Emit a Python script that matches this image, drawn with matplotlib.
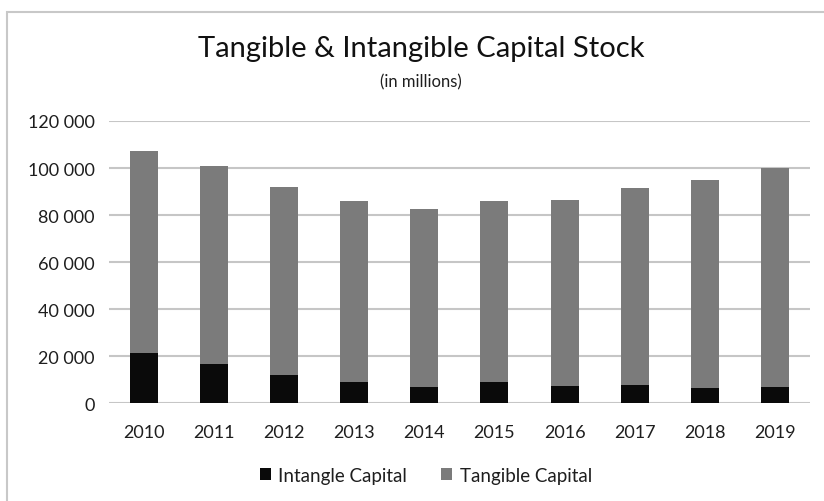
import matplotlib.pyplot as plt
import matplotlib.patches as mpatches
from matplotlib.ticker import FuncFormatter
import numpy as np

plt.rcParams['font.family'] = ['Lato', 'DejaVu Sans']

# capital stock by year, in millions
years = ['2010', '2011', '2012', '2013', '2014', '2015', '2016', '2017', '2018', '2019']
intangible = [21500, 16600, 11900, 9100, 6800, 9100, 7400, 7800, 6300, 6800]
totals = [107200, 101000, 92000, 86100, 82700, 86100, 86500, 91400, 95000, 99900]
tangible = [t - i for t, i in zip(totals, intangible)]

black = '#0a0a0a'
grey = '#7b7b7b'
grid_c = '#c6c6c6'

fig = plt.figure(figsize=(8.24, 5.02), dpi=100)
ax = fig.add_axes([0.132, 0.195, 0.851, 0.562])

x = np.arange(len(years))
ax.bar(x, intangible, width=0.4, color=black, label='Intangle Capital', zorder=3)
ax.bar(x, tangible, width=0.4, bottom=intangible, color=grey,
       label='Tangible Capital', zorder=3)

ax.set_xlim(-0.5, len(years) - 0.5)
ax.set_ylim(0, 120000)
ax.set_yticks(np.arange(0, 120001, 20000))
ax.yaxis.set_major_formatter(FuncFormatter(lambda v, p: f'{int(v):,}'.replace(',', ' ')))
ax.set_xticks(x)
ax.set_xticklabels(years)
ax.grid(axis='y', color=grid_c, linewidth=1.5, zorder=0)
ax.tick_params(length=0, labelsize=13, colors='#1e1e1e', pad=10)
ax.tick_params(axis='x', pad=15)
for s in ax.spines.values():
    s.set_visible(False)

fig.text(0.511, 0.902, 'Tangible & Intangible Capital Stock', ha='center', va='center',
         fontsize=21, color='#111111')
fig.text(0.511, 0.836, '(in millions)', ha='center', va='center', fontsize=12,
         color='#1e1e1e')

ax.legend(loc='upper center', bbox_to_anchor=(0.452, -0.165), ncol=2, frameon=False,
          fontsize=13.5, handlelength=0.6, handleheight=0.6, handletextpad=0.4,
          columnspacing=1.8, labelcolor='#1e1e1e')

# outer chart frame
frame = mpatches.Rectangle((7 / 824, -0.2), 1.2, 1.2 - 13 / 502, transform=fig.transFigure,
                           fill=False, edgecolor='#c8c8c8', linewidth=1.5)
fig.patches.append(frame)

fig.savefig('out.png', dpi=100)
